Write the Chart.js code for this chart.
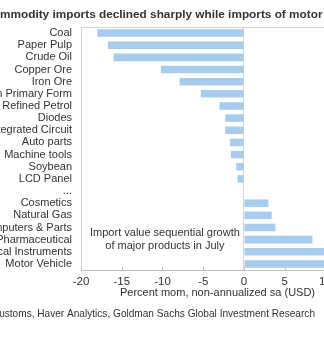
<!DOCTYPE html>
<html lang="en">
<head>
    <meta charset="UTF-8">
    <title>China imports by product</title>
    <script src="https://cdn.jsdelivr.net/npm/chart.js"></script>
    <style>
        html, body {
            margin: 0;
            padding: 0;
            background: #ffffff;
            overflow: hidden;
            width: 324px;
            height: 337px;
        }
        .wrap {
            position: relative;
            width: 324px;
            height: 337px;
            overflow: hidden;
        }
        #importsChart {
            position: absolute;
            left: -60px;
            top: 0;
        }
    </style>
</head>
<body>
    <div class="wrap">
        <canvas id="importsChart" width="440" height="337"></canvas>
    </div>

    <script>
        // Import value growth by product, July (% mom, sa)
        const products = [
            "Coal", "Paper Pulp", "Crude Oil", "Copper Ore", "Iron Ore",
            "Plastic in Primary Form", "Refined Petrol", "Diodes", "Integrated Circuit",
            "Auto parts", "Machine tools", "Soybean", "LCD Panel", "...",
            "Cosmetics", "Natural Gas", "Computers & Parts", "Pharmaceutical",
            "Optical Instruments", "Motor Vehicle"
        ];
        const momGrowth = [
            -18.0, -16.7, -16.0, -10.2, -7.9,
            -5.3, -3.0, -2.3, -2.3,
            -1.7, -1.6, -0.95, -0.8, null,
            3.0, 3.4, 3.85, 8.4,
            11.5, 12.5
        ];
        const xTicks = [-20, -15, -10, -5, 0, 5, 10];

        const chartTitle = "Commodity imports declined sharply while imports of motor vehicles picked up";
        const noteLines = ["Import value sequential growth", "of major products in July"];
        const axisTitle = "Percent mom, non-annualized sa (USD)";
        const sourceText = "Source: China Customs, Haver Analytics, Goldman Sachs Global Investment Research";

        const FONT = "'Liberation Sans', Arial, sans-serif";
        const TEXT = "#333333";
        const LINE = "#d4d4d4";

        // frame, inward tick marks and the loose text around the plot
        const extras = {
            id: "extras",
            beforeDatasetsDraw(chart) {
                const { ctx, chartArea: a, scales: { x } } = chart;
                ctx.save();
                ctx.strokeStyle = LINE;
                ctx.lineWidth = 1;
                ctx.beginPath();
                ctx.moveTo(a.left, a.top + 0.5);
                ctx.lineTo(a.right, a.top + 0.5);
                ctx.stroke();
                ctx.strokeStyle = "#bfbfbf";
                xTicks.forEach(v => {
                    const px = Math.round(x.getPixelForValue(v)) + 0.5;
                    ctx.beginPath();
                    ctx.moveTo(px, a.bottom);
                    ctx.lineTo(px, a.bottom - 3);
                    ctx.stroke();
                });
                ctx.restore();
            },
            afterDraw(chart) {
                const { ctx, scales: { x, y } } = chart;
                ctx.save();
                ctx.fillStyle = TEXT;
                ctx.textBaseline = "middle";

                ctx.font = "bold 11.8px " + FONT;
                ctx.textAlign = "left";
                ctx.fillText(chartTitle, 60 - ctx.measureText("Co").width, 15);

                ctx.font = "11px " + FONT;
                ctx.textAlign = "center";
                const nx = x.getPixelForValue(-9.7);
                const ny = y.getPixelForValue(17);
                ctx.fillText(noteLines[0], nx, ny - 6.6);
                ctx.fillText(noteLines[1], nx, ny + 6.6);

                ctx.font = "10.1px " + FONT;
                ctx.textAlign = "right";
                ctx.fillText(sourceText, 375, 314);
                ctx.restore();
            }
        };

        new Chart(document.getElementById("importsChart"), {
            type: "bar",
            data: {
                labels: products,
                datasets: [{
                    data: momGrowth,
                    backgroundColor: "#a7ccee",
                    borderWidth: 0,
                    categoryPercentage: 1,
                    barPercentage: 0.62
                }]
            },
            options: {
                indexAxis: "y",
                responsive: false,
                animation: false,
                devicePixelRatio: 1,
                layout: { padding: { top: 27, right: 26, bottom: 37, left: 0 } },
                plugins: {
                    legend: { display: false },
                    tooltip: { enabled: false }
                },
                scales: {
                    x: {
                        min: -20,
                        max: 13.5,
                        afterFit: s => { s.height = 30; },
                        afterBuildTicks: s => { s.ticks = xTicks.map(v => ({ value: v })); },
                        ticks: {
                            padding: 5,
                            color: TEXT,
                            font: { family: FONT, size: 11.5 }
                        },
                        grid: {
                            drawTicks: false,
                            color: ctx => (ctx.tick && ctx.tick.value === 0) ? LINE : "rgba(0,0,0,0)"
                        },
                        border: { display: true, color: "#bfbfbf" },
                        title: {
                            display: true,
                            text: axisTitle,
                            color: TEXT,
                            font: { family: FONT, size: 11 },
                            padding: 0
                        }
                    },
                    y: {
                        afterFit: s => { s.width = 141; },
                        ticks: {
                            padding: 9,
                            color: TEXT,
                            font: { family: FONT, size: 11 },
                            autoSkip: false
                        },
                        grid: { display: false, drawTicks: false },
                        border: { display: true, color: LINE }
                    }
                }
            },
            plugins: [extras]
        });
    </script>
</body>
</html>
